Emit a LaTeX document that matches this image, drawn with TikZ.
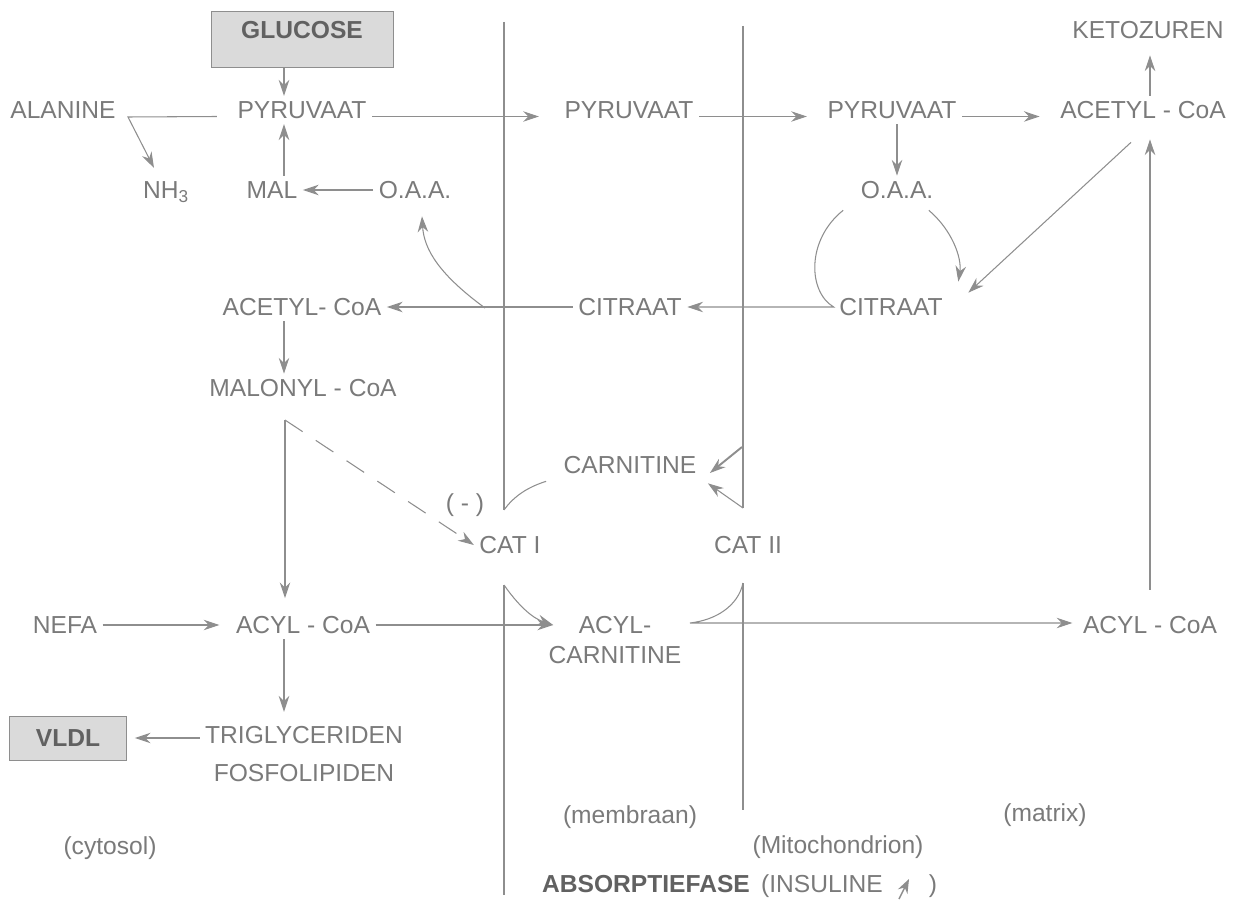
\documentclass[tikz,border=0pt]{standalone}
\usepackage{fontspec}
\setmainfont{Liberation Sans}
\usetikzlibrary{arrows.meta,calc}

\definecolor{inkgray}{HTML}{7A7A7A}
\definecolor{linegray}{HTML}{8E8E8E}
\definecolor{boxgray}{HTML}{DADADA}

\tikzset{
  metab/.style={inner sep=3pt, text=inkgray, font=\fontsize{14}{17.6}\selectfont, align=center},
  hilite/.style={draw=linegray, fill=boxgray, text=black!62, inner sep=0pt,
    font=\fontsize{14}{17}\selectfont\bfseries},
  plain/.style={draw=linegray, line width=0.6pt},
  conv/.style={plain, -{Stealth[length=9pt,width=6pt]}},
}

\begin{document}
\begin{tikzpicture}[x=0.02cm, y=-0.02cm]
  \useasboundingbox (0,0) rectangle (1244,902);
  % membranes
  \coordinate (m1top) at (504,22);
  \coordinate (m1a) at (504,510);
  \coordinate (m1b) at (504,585);
  \coordinate (m1bot) at (504,895);
  \coordinate (m2top) at (743,26);
  \coordinate (m2a) at (743,508);
  \coordinate (m2b) at (743,583);
  \coordinate (m2bot) at (743,810);
  \draw[plain] (m1top) -- (m1a);
  \draw[plain] (m1b) -- (m1bot);
  \draw[plain] (m2top) -- (m2a);
  \draw[plain] (m2b) -- (m2bot);
  % columns
  \coordinate (lc) at (284,0);
  \coordinate (rc) at (1150,0);

  % cytosol
  \node[hilite, minimum width=3.64cm, text height=0.55cm, text depth=0.58cm] (glucose) at (302,39.5) {GLUCOSE};
  \node[metab] (alanine) at (63,110) {ALANINE};
  \node[metab] (pyr1) at (302,110) {PYRUVAAT};
  \node[metab] (nh3) at (166,192) {NH\textsubscript{3}};
  \node[metab] (mal) at (272,190) {MAL};
  \node[metab] (oaa1) at (415,190) {O.A.A.};
  \node[metab] (acetylL) at (302,307) {ACETYL- CoA};
  \node[metab] (malonyl) at (303,388) {MALONYL - CoA};
  \node[metab] (nefa) at (65,625) {NEFA};
  \node[metab] (acylL) at (303,625) {ACYL - CoA};
  \node[metab, font=\fontsize{14}{21.5}\selectfont] (trig) at (304,754) {TRIGLYCERIDEN\\FOSFOLIPIDEN};
  \node[hilite, minimum width=2.34cm, minimum height=0.88cm] (vldl) at (68,738) {VLDL};

  % membrane
  \node[metab] (pyr2) at (629,110) {PYRUVAAT};
  \node[metab] (citM) at (630,307) {CITRAAT};
  \node[metab] (carn) at (630,465) {CARNITINE};
  \node[metab] (minus) at (465,505) {( - )};
  \node[metab] (cat1) at (510,545) {CAT I};
  \node[metab] (cat2) at (748,545) {CAT II};
  \node[metab] (acylcarn) at (615,640) {ACYL-\\CARNITINE};

  % matrix
  \node[metab] (pyr3) at (892,110) {PYRUVAAT};
  \node[metab] (acetylR) at (1143,110) {ACETYL - CoA};
  \node[metab] (keto) at (1148,30) {KETOZUREN};
  \node[metab] (oaa2) at (897,190) {O.A.A.};
  \node[metab] (citR) at (891,307) {CITRAAT};
  \node[metab] (acylR) at (1150,625) {ACYL - CoA};

  % compartments
  \node[metab] (cytosol) at (110,848) {(cytosol)};
  \node[metab] (membraan) at (630,817) {(membraan)};
  \node[metab] (matrix) at (1045,815) {(matrix)};
  \node[metab] (mito) at (838,847) {(Mitochondrion)};
  \node[metab, anchor=base, text=black!62, font=\fontsize{14}{17}\selectfont\bfseries] (absfase) at (646,892) {ABSORPTIEFASE};
  \node[metab, anchor=base] (insul) at (822,892) {(INSULINE};
  \node[metab, anchor=base] (rparen) at (933,892) {)};
  \coordinate (upfrom) at (899,899);
  \coordinate (upto) at (909,879);
  \draw[plain, line width=0.8pt, -{Stealth[length=8pt,width=6pt]}] (upfrom) -- (upto);

  % top row
  \draw[conv] (glucose.south -| lc) -- (pyr1.north -| lc);
  \draw[conv] ([yshift=-0.13cm]pyr1.east) -- ([yshift=-0.13cm,xshift=-0.4cm]pyr2.west);
  \draw[conv] ([yshift=-0.13cm]pyr2.east) -- ([yshift=-0.13cm,xshift=-0.3cm]pyr3.west);
  \draw[conv] ([yshift=-0.13cm]pyr3.east) -- ([yshift=-0.13cm,xshift=-0.3cm]acetylR.west);
  \coordinate (alcorner) at (128,117);
  \draw[conv] ([yshift=-0.13cm,xshift=-0.3cm]pyr1.west) -- (alcorner) -- ($(nh3.north)+(-12,-8)$);
  \draw[conv] (mal.north -| lc) -- (pyr1.south -| lc);
  \draw[conv] (oaa1) -- (mal);
  \draw[conv] (acetylR.north -| rc) -- ([yshift=-0.22cm]keto.south -| rc);
  \draw[conv] ([yshift=0.42cm]acylR.north -| rc) -- ([yshift=-0.3cm]acetylR.south -| rc);

  % citrate shuttle
  \draw[conv] (pyr3.south -| oaa2) -- (oaa2.north);
  \draw[conv] ($(oaa2.south west)+(-12,6)$) .. controls (806,240) and (808,292) .. (citR.west) -- (citM.east);
  \draw[conv] ($(oaa2.south east)+(-10,6)$) .. controls (952,230) and (962,258) .. ($(citR.north east)+(10,-11)$);
  \draw[conv] ($(acetylR.south)+(-12,18)$) -- ($(citR.north east)+(20,0)$);
  \coordinate (split) at (485,308);
  \draw[conv] (citM.west) -- (acetylL.east);
  \draw[conv] (split) .. controls (440,275) and (424,250) .. ($(oaa1.south)+(7,12)$);
  \draw[conv] (acetylL.south -| lc) -- (malonyl.north -| lc);

  % fatty acids
  \coordinate (mcorner) at (285,420);
  \draw[conv] (mcorner) -- ([yshift=0.25cm]acylL.north -| mcorner);
  \draw[conv, dash pattern=on 12pt off 9pt] (mcorner) -- (cat1.west);
  \draw[conv] (nefa) -- ([xshift=-0.22cm]acylL.west);
  \draw[conv] (acylL.south -| lc) -- ([yshift=0.18cm]trig.north -| lc);
  \draw[conv] (trig.west |- vldl.east) -- ([xshift=0.16cm]vldl.east);
  \draw[conv] (acylL.east) -- ([xshift=0.2cm]acylL.east -| acylcarn.west);

  % carnitine cycle
  \draw[plain] (m1a) .. controls (514,496) and (528,487) .. ($(carn.south west)+(-12,2)$);
  \draw[conv] (m2a) -- ($(carn.south east)+(6,4)$);
  \coordinate (inflow) at (742,447);
  \draw[conv, line width=1.1pt] (inflow) -- ($(carn.east)+(8,8)$);
  \draw[conv] (m1b) .. controls (518,605) and (532,618) .. ([xshift=0.2cm]acylL.east -| acylcarn.west);
  \coordinate (ac2) at (690,623);
  \draw[conv] (m2b) .. controls (738,606) and (716,620) .. (ac2) -- ([xshift=-0.1cm]ac2 -| acylR.west);
\end{tikzpicture}
\end{document}
